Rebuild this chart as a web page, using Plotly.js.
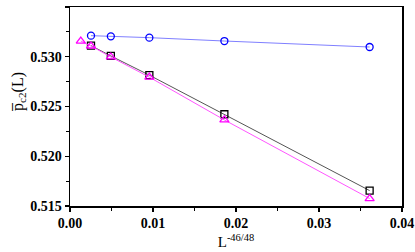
<!DOCTYPE html>
<html><head><meta charset="utf-8">
<script src="https://cdn.plot.ly/plotly-3.0.1.min.js"></script>
<style>html,body{margin:0;padding:0;background:#fff}#chart{width:415px;height:252px}</style>
</head><body><div id="chart"></div>
<script>
const xCircle = [0.00253, 0.00492, 0.00956, 0.0186, 0.0361];
const yCircle = [0.53212, 0.53205, 0.53192, 0.53158, 0.53098];
const xSquare = [0.00253, 0.00492, 0.00956, 0.0186, 0.0361];
const ySquare = [0.53112, 0.53008, 0.52815, 0.52422, 0.51655];
const xTri = [0.0013, 0.00253, 0.00492, 0.00956, 0.0186, 0.0361];
const yTri = [0.53158, 0.53108, 0.52998, 0.52795, 0.52365, 0.51575];
const xTicks = [0, 0.01, 0.02, 0.03, 0.04];
const xTickText = ["0.00", "0.01", "0.02", "0.03", "0.04"];
const yTicks = [0.515, 0.520, 0.525, 0.530, 0.535];
const yTickText = ["0.515", "0.520", "0.525", "0.530", "0.535"];
const yTitle = 'p\u0305<sub>c2</sub>(L)';

const traces = [
  {x: xCircle, y: yCircle, mode: 'lines+markers', line: {color: '#8080ff', width: 1},
   marker: {symbol: 'circle-open', size: 7, color: '#0000ff', line: {width: 1.3}}},
  {x: xSquare, y: ySquare, mode: 'lines+markers', line: {color: '#555555', width: 1},
   marker: {symbol: 'square-open', size: 7, color: '#000000', line: {width: 1.3}}},
  {x: xTri, y: yTri, mode: 'lines+markers', line: {color: '#ff55ff', width: 1},
   marker: {symbol: 'triangle-up-open', size: 8, color: '#ff00ff', line: {width: 1.3}}}
];
const bold = a => a.map(s => '<b>' + s + '</b>');
const tickFont = {family: 'Liberation Serif', size: 14, color: '#000'};
const layout = {
  width: 415, height: 252,
  margin: {l: 69.5, r: 13, t: 6.5, b: 45.5},
  showlegend: false,
  paper_bgcolor: '#fff', plot_bgcolor: '#fff',
  xaxis: {range: [0, 0.04], tickvals: xTicks, ticktext: bold(xTickText), ticks: 'outside', ticklen: 4,
    tickwidth: 1.3, tickcolor: '#000', showline: true, linecolor: '#000', linewidth: 1.5, mirror: true,
    showgrid: false, zeroline: false, tickfont: tickFont,
    minor: {dtick: 0.005, tick0: 0, ticks: 'outside', ticklen: 3, tickcolor: '#000', tickwidth: 1, showgrid: false},
    title: {text: 'L<sup>-46/48</sup>', font: {family: 'Liberation Serif', size: 15, color: '#000'}, standoff: 6}},
  yaxis: {range: [0.515, 0.535], tickvals: yTicks, ticktext: bold(yTickText), ticks: 'outside', ticklen: 4,
    tickwidth: 1.3, tickcolor: '#000', showline: true, linecolor: '#000', linewidth: 1.5, mirror: true,
    showgrid: false, zeroline: false, tickfont: tickFont,
    minor: {dtick: 0.0025, tick0: 0.515, ticks: 'outside', ticklen: 3, tickcolor: '#000', tickwidth: 1, showgrid: false}},
  annotations: [{text: yTitle, xref: 'paper', yref: 'paper', x: -0.155, y: 0.5, yshift: 14, xanchor: 'center', yanchor: 'middle',
    textangle: -90, showarrow: false, font: {family: 'Liberation Serif', size: 16, color: '#000'}}]
};
Plotly.newPlot('chart', traces, layout, {displayModeBar: false, staticPlot: true});
</script></body></html>
